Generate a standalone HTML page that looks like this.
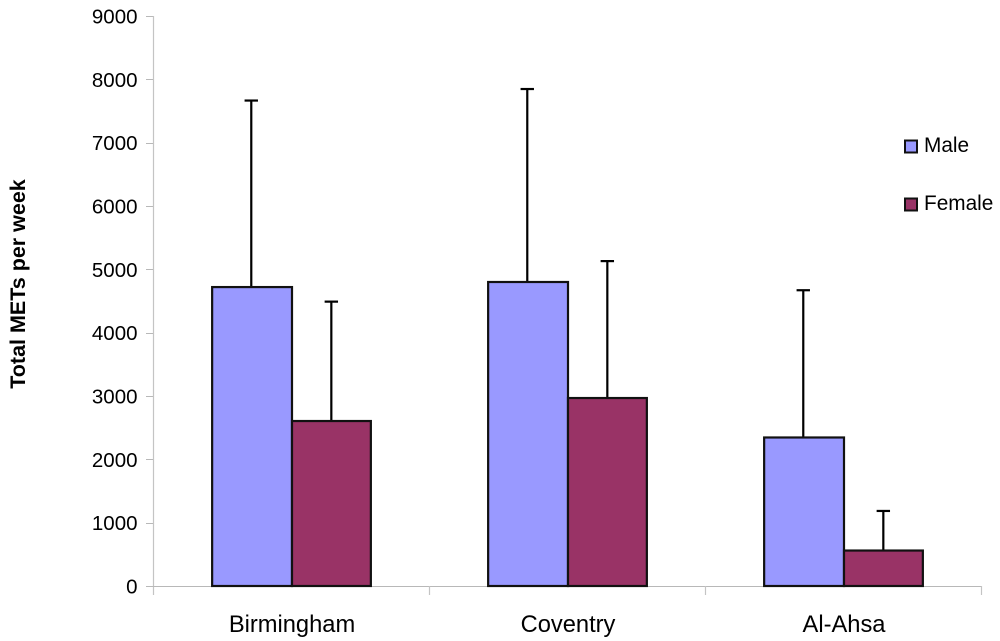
<!DOCTYPE html>
<html>
<head>
<meta charset="utf-8">
<style>
html,body{margin:0;padding:0;background:#fff}
svg{display:block}
text{font-family:"Liberation Sans",sans-serif;fill:#000}
</style>
</head>
<body>
<svg id="chart" width="1000" height="641" viewBox="0 0 1000 641" xmlns="http://www.w3.org/2000/svg">
<text transform="translate(25,284) rotate(-90)" text-anchor="middle" font-size="21.5" font-weight="bold">Total METs per week</text>
<g id="plot"></g>
<g>
<g>
<rect x="905" y="140.5" width="12" height="12" fill="#9999ff" stroke="#111" stroke-width="2"/>
<text x="924" y="152" font-size="20.8">Male</text>
</g>
<g>
<rect x="905" y="198.5" width="12" height="12" fill="#993366" stroke="#111" stroke-width="2"/>
<text x="924" y="210" font-size="20.8">Female</text>
</g>
</g>
</svg>
<script>
const categories = ["Birmingham", "Coventry", "Al-Ahsa"];
const maleValues = [4720, 4800, 2345];
const femaleValues = [2605, 2968, 560];
const maleErrorTops = [7665, 7847, 4670];
const femaleErrorTops = [4490, 5130, 1185];
const yTicks = [0, 1000, 2000, 3000, 4000, 5000, 6000, 7000, 8000, 9000];

const NS = "http://www.w3.org/2000/svg";
const plot = document.getElementById("plot");
const left = 153, right = 981, top_ = 16, bottom = 586, yMax = 9000;
const bandW = (right - left) / categories.length;
const barW = bandW / 3.5;
function yScale(v) { return bottom - (v / yMax) * (bottom - top_); }
function xBand(i) { return left + i * bandW; }
function add(tag, attrs, text) {
  const el = document.createElementNS(NS, tag);
  for (const k in attrs) el.setAttribute(k, attrs[k]);
  if (text !== undefined) el.textContent = text;
  plot.appendChild(el);
  return el;
}
const axisColor = "#b8b8b8";

yTicks.forEach(function (t) {
  const y = Math.round(yScale(t)) + 0.5;
  const tick = add("line", { x1: 146, x2: 153, y1: y, y2: y, stroke: axisColor, "stroke-width": 1 });
  
  
  const label = add("text", { x: 137.5, y: yScale(t) + 7.5, "text-anchor": "end", "font-size": 20.5 }, String(t));
  
  
});

const yAxis = add("line", { x1: 153.5, x2: 153.5, y1: top_, y2: 595, stroke: "#c4c4c4", "stroke-width": 1.2 });



const xAxis = add("line", { x1: 147, x2: right + 1, y1: 586.5, y2: 586.5, stroke: axisColor, "stroke-width": 1 });



categories.forEach(function (c, i) {
  const tickX = Math.round(xBand(i + 1)) + 0.5;
  const tick = add("line", { x1: tickX, x2: tickX, y1: 586, y2: 595, stroke: "#c4c4c4", "stroke-width": 1.2 });
  
  
  const label = add("text", { x: xBand(i) + bandW / 2 + 1, y: 632, "text-anchor": "middle", "font-size": 23.7 }, c);
  
  
});

function drawError(cx, value, errTop) {
  const line = add("line", { x1: cx, x2: cx, y1: yScale(value), y2: yScale(errTop), stroke: "#000", "stroke-width": 2.2 });
  
  
  const cap = add("line", { x1: cx - 6.7, x2: cx + 6.7, y1: yScale(errTop), y2: yScale(errTop), stroke: "#000", "stroke-width": 2.2 });
  
  
}
function drawBar(x, width, value, fill) {
  const bar = add("rect", { x: x, y: yScale(value), width: width, height: bottom - yScale(value), fill: fill, stroke: "#111", "stroke-width": 2.2 });
  
  
}

categories.forEach(function (c, i) {
  const mid = xBand(i) + bandW / 2;
  drawError(mid - barW / 2 - 0.3, maleValues[i], maleErrorTops[i]);
  drawError(mid + barW / 2 + 0.9, femaleValues[i], femaleErrorTops[i]);
  drawBar(mid - barW, barW + 1, maleValues[i], "#9999ff");
  drawBar(mid + 1, barW, femaleValues[i], "#993366");
});
</script>
</body>
</html>
